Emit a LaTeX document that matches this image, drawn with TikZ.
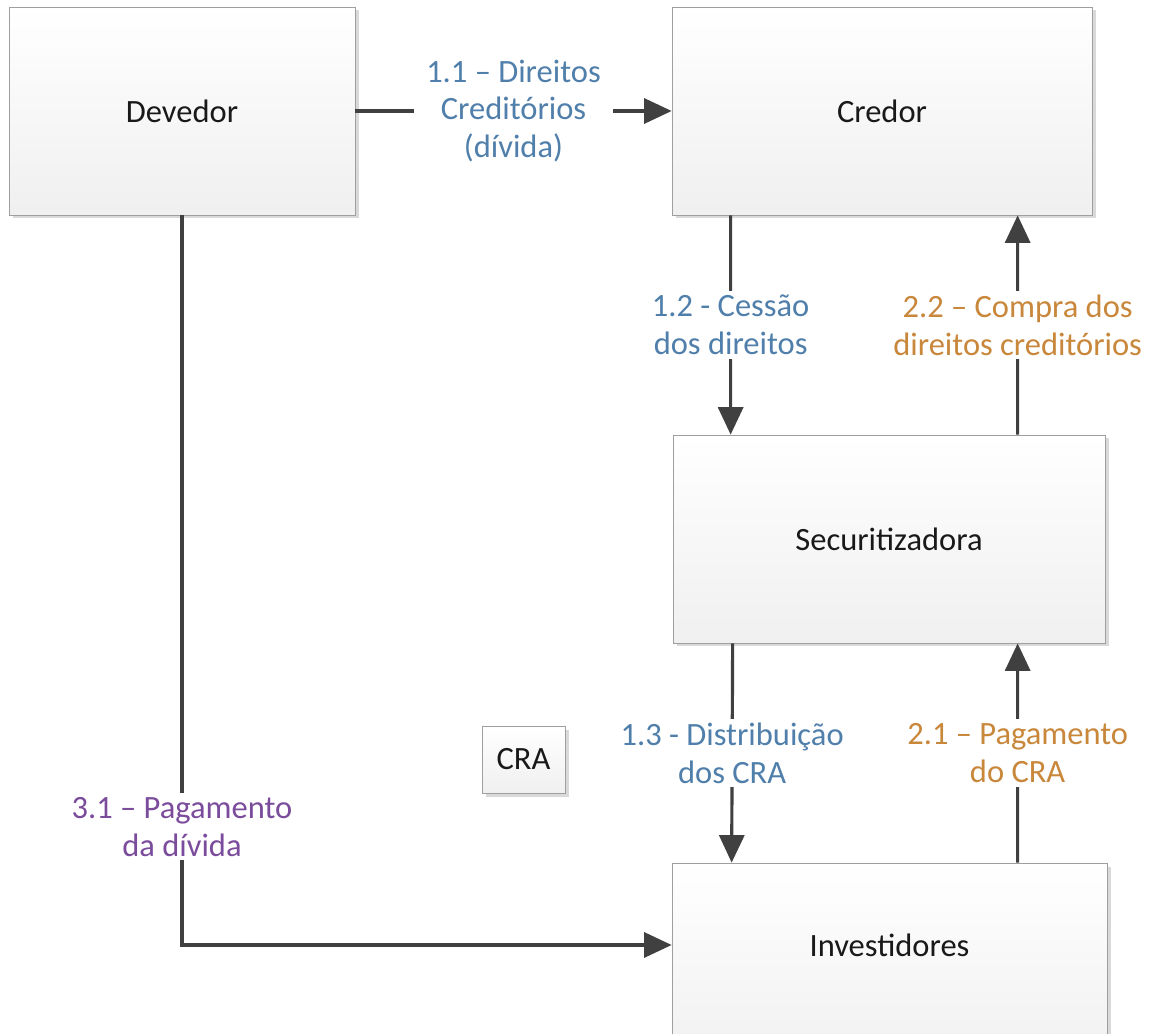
\documentclass[tikz,border=0pt]{standalone}
\usepackage{fontspec}
\setmainfont{Carlito}
\usetikzlibrary{arrows.meta,shadows}
\definecolor{lblblue}{HTML}{4F7FAA}
\definecolor{lblorange}{HTML}{C8873A}
\definecolor{lblpurple}{HTML}{7B4B9C}
\definecolor{linegray}{HTML}{404040}
\begin{document}
\begin{tikzpicture}[
    box/.style={draw=gray!75, top color=white, bottom color=gray!12,
      drop shadow={shadow xshift=0.07cm, shadow yshift=-0.07cm, opacity=0.3},
      font=\fontsize{18.5}{21.5}\selectfont, text=black!90},
    flow/.style={draw=linegray, line width=1.8pt, -{Triangle[length=0.55cm,width=0.5cm]}},
    lbl/.style={fill=white, align=center, font=\fontsize{18.5}{21.5}\selectfont,
      inner xsep=0.25cm, inner ysep=0.08cm}]
  \useasboundingbox (0,0) rectangle (23,-20.68);
  % boxes
  \node[box, minimum width=6.92cm, minimum height=4.16cm] (dev) at (3.64,-2.22) {Devedor};
  \node[box, minimum width=8.4cm, minimum height=4.16cm] (cred) at (17.64,-2.22) {Credor};
  \node[box, minimum width=8.64cm, minimum height=4.16cm] (sec) at (17.78,-10.78) {Securitizadora};
  \node[box, minimum width=8.7cm, minimum height=4.16cm] (inv) at (17.79,-19.34) {};
  \node[font=\fontsize{18.5}{21.5}\selectfont, text=black!90] (invtxt) at (17.79,-18.9) {Investidores};
  \node[box, minimum width=1.66cm, minimum height=1.34cm] (cra) at (10.47,-15.19) {CRA};
  % fluxos 1.x
  \draw[flow] (dev.east) -- node[lbl, text=lblblue]{1.1 -- Direitos\\Creditórios\\(dívida)} (cred.west);
  \draw[flow] ([xshift=1.18cm]cred.south west) -- node[lbl, text=lblblue]{1.2 - Cessão\\dos direitos} ([xshift=1.16cm]sec.north west);
  \draw[flow] ([xshift=1.2cm]sec.south west) -- node[lbl, text=lblblue]{1.3 - Distribuição\\dos CRA} ([xshift=1.2cm]inv.north west);
  % fluxos 2.x
  \draw[flow] ([xshift=6.92cm]inv.north west) -- node[lbl, text=lblorange]{2.1 -- Pagamento\\do CRA} ([xshift=6.9cm]sec.south west);
  \draw[flow] ([xshift=6.9cm]sec.north west) -- node[lbl, text=lblorange]{2.2 -- Compra dos\\direitos creditórios} ([xshift=6.92cm]cred.south west);
  % fluxo 3.1
  \draw[flow] (dev.south) |- node[lbl, pos=0.419, text=lblpurple]{3.1 -- Pagamento\\da dívida} (inv.west |- invtxt);
\end{tikzpicture}
\end{document}
